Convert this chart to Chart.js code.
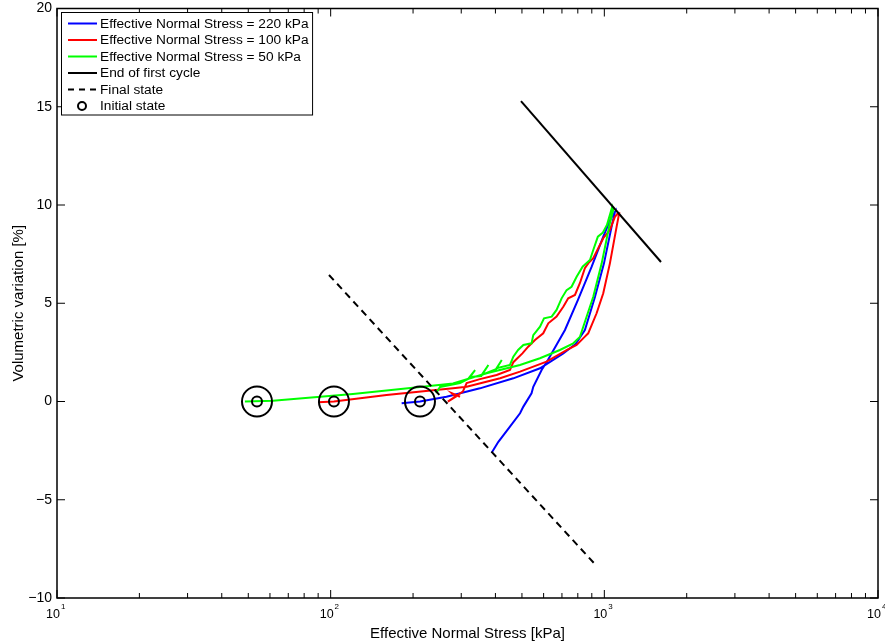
<!DOCTYPE html>
<html><head><meta charset="utf-8">
<script src="https://cdn.jsdelivr.net/npm/chart.js@4/dist/chart.umd.min.js"></script>
<style>html,body{margin:0;padding:0;background:#fff;}#wrap{width:885px;height:644px;}</style>
</head><body><div id="wrap"><canvas id="c" width="885" height="644"></canvas></div>
<script>
const FONT = '"Liberation Sans", Arial, Helvetica, sans-serif';

// ---- data (Effective normal stress [kPa], volumetric variation [%]) ----
const stress220 = [181.7, 212, 265, 351, 465, 582, 708, 786, 849, 924, 997, 1066, 1093,
  1063, 991, 899, 801, 718, 622, 590, 550, 542, 506, 492, 452, 410, 387.5];
const vol220 = [-0.09, 0, 0.24, 0.67, 1.18, 1.69, 2.45, 2.93, 3.64, 5.32, 7.03, 8.98, 9.64,
  9.40, 8.39, 6.86, 5.17, 3.64, 2.11, 1.60, 0.75, 0.42, -0.26, -0.60, -1.28, -2.05, -2.61];

const stress100 = [89.9, 102.8, 160, 280, 314, 416, 492, 615, 728, 792, 849, 873, 937, 991, 1048, 1109, 1133,
  1121, 1093, 1048, 991, 950, 911, 873, 849, 814, 781, 738, 708, 669, 624, 598, 558, 527, 502, 465, 452,
  404, 351, 314, 304, 268, 286, 277, 297];
const vol100 = [-0.04, 0, 0.33, 0.67, 0.75, 1.18, 1.52, 2.03, 2.62, 2.88, 3.30, 3.47, 4.49, 5.51, 7.03, 8.90, 9.58,
  9.58, 9.40, 8.73, 8.31, 7.80, 7.29, 7.03, 6.78, 6.02, 5.42, 5.25, 4.82, 4.32, 3.98, 3.47, 3.13, 2.79, 2.45, 2.0, 1.60,
  1.35, 1.14, 0.94, 0.50, -0.01, 0.24, 0.42, 0.24];

const stress50 = [48.6, 61.5, 120.6, 212, 279.8, 371.5, 491.7, 581.7, 688, 770, 814, 837, 911, 978, 1048, 1078,
  1069, 1022, 986, 947, 911, 886, 833, 792, 759, 728, 698, 669, 642, 602, 582, 550, 542, 506, 484, 465, 452,
  404, 422, 402, 356, 377, 355, 323, 337, 318, 297, 251, 243];
const vol50 = [0, 0.04, 0.38, 0.74, 0.92, 1.44, 1.86, 2.20, 2.62, 2.96, 3.28, 3.79, 5.33, 7.03, 9.08, 9.75,
  9.91, 8.98, 8.58, 8.39, 7.71, 7.20, 6.86, 6.35, 5.84, 5.67, 5.25, 4.66, 4.32, 4.23, 3.81, 3.38, 2.96, 2.88, 2.62, 2.28, 1.86,
  1.69, 2.11, 1.65, 1.35, 1.86, 1.30, 1.25, 1.60, 1.15, 0.94, 0.74, 0.43];

const endCycleStress = [496, 1611];
const endCycleVol = [15.29, 7.10];
const finalStress = [98.6, 916];
const finalVol = [6.44, -8.22];
const initStress = [53.8, 102.8, 212];
const initVol = [0, 0, 0];

const xDecades = [10, 100, 1000, 10000];
const xMinorMult = [2, 3, 4, 5, 6, 7, 8, 9];
const yTickValues = [-10, -5, 0, 5, 10, 15, 20];

function pts(xs, ys) { return xs.map((v, i) => ({x: v, y: ys[i]})); }
function lineDs(label, xs, ys, color, order, dash) {
  return {label, data: pts(xs, ys), borderColor: color, backgroundColor: color, showLine: true,
    pointRadius: 0, pointHoverRadius: 0, borderWidth: 2, tension: 0, fill: false, order,
    borderDash: dash || []};
}

const axesPlugin = {
  id: 'axesBox',
  afterDraw(chart) {
    const {ctx, chartArea: a, scales: {x, y}} = chart;
    ctx.save();
    ctx.strokeStyle = '#000';
    ctx.lineWidth = 1;
    ctx.beginPath();
    xDecades.forEach(d => {
      const px = x.getPixelForValue(d);
      ctx.moveTo(px, a.bottom); ctx.lineTo(px, a.bottom - 8);
      ctx.moveTo(px, a.top); ctx.lineTo(px, a.top + 8);
      if (d < 10000) xMinorMult.forEach(m => {
        const p = x.getPixelForValue(d * m);
        ctx.moveTo(p, a.bottom); ctx.lineTo(p, a.bottom - 5);
        ctx.moveTo(p, a.top); ctx.lineTo(p, a.top + 5);
      });
    });
    yTickValues.forEach(v => {
      const py = y.getPixelForValue(v);
      ctx.moveTo(a.left, py); ctx.lineTo(a.left + 8, py);
      ctx.moveTo(a.right, py); ctx.lineTo(a.right - 8, py);
    });
    ctx.stroke();
    ctx.lineWidth = 1.5;
    ctx.strokeRect(a.left, a.top, a.right - a.left, a.bottom - a.top);
    // x tick labels 10^n
    ctx.fillStyle = '#000';
    ctx.textBaseline = 'alphabetic';
    xDecades.forEach(d => {
      const px = x.getPixelForValue(d);
      const e = Math.round(Math.log10(d));
      ctx.font = '12.5px ' + FONT;
      ctx.textAlign = 'center';
      ctx.fillText('10', px - 4, 618);
      const w = ctx.measureText('10').width;
      ctx.font = '8px ' + FONT;
      ctx.textAlign = 'left';
      ctx.fillText(String(e), px - 4 + w / 2 + 1, 609);
    });
    ctx.restore();
  }
};

const legendPlugin = {
  id: 'boxLegend',
  afterDraw(chart) {
    const ctx = chart.ctx;
    const items = chart.data.datasets.filter(d => !d.noLegend);
    ctx.save();
    ctx.font = '13.7px ' + FONT;
    const textX = 100;
    let maxW = 0;
    items.forEach(d => { maxW = Math.max(maxW, ctx.measureText(d.label).width); });
    const bx = 61.5, by = 12.5, bw = textX + maxW + 4 - bx, bh = 102.5;
    ctx.fillStyle = '#fff'; ctx.fillRect(bx, by, bw, bh);
    ctx.strokeStyle = '#000'; ctx.lineWidth = 1; ctx.strokeRect(bx, by, bw, bh);
    items.forEach((d, i) => {
      const yy = 23.5 + i * 16.5;
      if (d.showLine) {
        ctx.beginPath();
        ctx.setLineDash(d.borderDash && d.borderDash.length ? [6, 5] : []);
        ctx.strokeStyle = d.borderColor; ctx.lineWidth = 2;
        ctx.moveTo(68, yy); ctx.lineTo(97, yy); ctx.stroke();
        ctx.setLineDash([]);
      } else {
        ctx.beginPath(); ctx.arc(82, yy, 4, 0, 2 * Math.PI);
        ctx.strokeStyle = '#000'; ctx.lineWidth = 2; ctx.stroke();
      }
      ctx.fillStyle = '#000'; ctx.textBaseline = 'middle'; ctx.textAlign = 'left';
      ctx.fillText(d.label, textX, yy + 0.5);
    });
    ctx.restore();
  }
};

const datasets = [
  lineDs('Effective Normal Stress = 220 kPa', stress220, vol220, '#0000ff', 5),
  lineDs('Effective Normal Stress = 100 kPa', stress100, vol100, '#ff0000', 4),
  lineDs('Effective Normal Stress = 50 kPa', stress50, vol50, '#00ff00', 3),
  lineDs('End of first cycle', endCycleStress, endCycleVol, '#000000', 2),
  lineDs('Final state', finalStress, finalVol, '#000000', 2, [7, 5]),
  {label: 'Initial state', data: pts(initStress, initVol), showLine: false, pointRadius: 5, pointHoverRadius: 5,
   pointBorderWidth: 2, borderColor: '#000', pointBorderColor: '#000', pointBackgroundColor: 'rgba(0,0,0,0)',
   backgroundColor: 'rgba(0,0,0,0)', order: 1},
  {label: 'Initial state (outer)', noLegend: true, data: pts(initStress, initVol), showLine: false, pointRadius: 15,
   pointHoverRadius: 15, pointBorderWidth: 2, borderColor: '#000', pointBorderColor: '#000',
   pointBackgroundColor: 'rgba(0,0,0,0)', backgroundColor: 'rgba(0,0,0,0)', order: 1}
];

new Chart(document.getElementById('c'), {
  type: 'scatter',
  data: {datasets},
  options: {
    responsive: false, animation: false, devicePixelRatio: 1,
    layout: {autoPadding: false, padding: {left: 0, right: 7, top: 8.5, bottom: 0}},
    plugins: {legend: {display: false}, tooltip: {enabled: false}},
    events: [],
    scales: {
      x: {type: 'logarithmic', min: 10, max: 10000, position: 'bottom',
        grid: {display: false, drawTicks: false}, border: {display: false},
        ticks: {display: false},
        title: {display: true, text: 'Effective Normal Stress [kPa]', color: '#000',
          font: {family: FONT, size: 15}, padding: {top: 0, bottom: 1.5}},
        afterFit(s) { s.height = 46; s.paddingLeft = 0; s.paddingRight = 0; }},
      y: {type: 'linear', min: -10, max: 20, position: 'left',
        grid: {display: false, drawTicks: false}, border: {display: false},
        afterBuildTicks(s) { s.ticks = yTickValues.map(v => ({value: v})); },
        ticks: {color: '#000', font: {family: FONT, size: 14}, padding: 5,
          callback: v => v < 0 ? '\u2212' + Math.abs(v) : String(v)},
        title: {display: true, text: 'Volumetric variation [%]', color: '#000',
          font: {family: FONT, size: 15}, padding: {top: 10, bottom: 0}},
        afterFit(s) { s.width = 57; s.paddingTop = 0; s.paddingBottom = 0; }}
    }
  },
  plugins: [axesPlugin, legendPlugin]
});
</script>
</body></html>
